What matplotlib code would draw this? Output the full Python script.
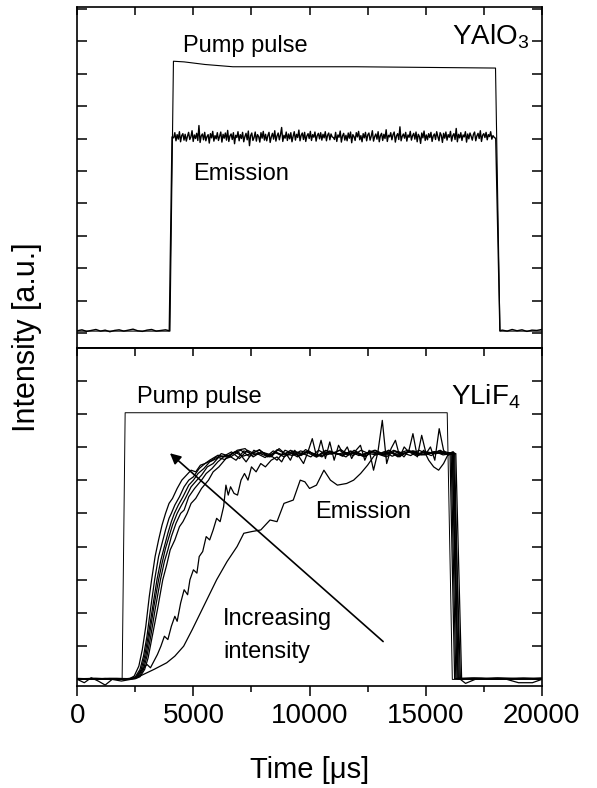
import numpy as np
import matplotlib
matplotlib.use('Agg')
import matplotlib.pyplot as plt
from matplotlib.ticker import MultipleLocator

plt.rcParams['font.family'] = ['Liberation Sans', 'DejaVu Sans']
plt.rcParams['mathtext.fontset'] = 'custom'
plt.rcParams['mathtext.rm'] = 'Liberation Sans'
plt.rcParams['mathtext.default'] = 'rm'

# ---------------- top panel (YAlO3) ----------------
top_pump_t = [0, 3990, 4140, 4600, 5500, 6700, 12000, 18010, 18200, 20000]
top_pump_v = [0.07, 0.07, 8.38, 8.36, 8.28, 8.21, 8.21, 8.17, 0.07, 0.07]

top_em_left_v = [0.08, 0.11, 0.06, 0.09, 0.12, 0.07, 0.10, 0.05, 0.09, 0.11,
                 0.07, 0.10, 0.13, 0.08, 0.06, 0.10, 0.12, 0.07, 0.09, 0.11]
top_em_left_span = (0, 3800)
top_em_rise_t = [3960, 4080]
top_em_rise_v = [0.08, 6.05]
top_em_plat_v = [
    6.02, 6.18, 5.93, 6.12, 5.98, 6.21, 5.90, 6.09, 6.15, 5.95,
    6.13, 5.92, 6.07, 6.19, 5.97, 6.05, 6.24, 5.91, 6.11, 6.00,
    6.16, 5.94, 6.40, 5.88, 6.08, 6.14, 5.96, 6.19, 5.93, 6.06,
    6.12, 5.86, 6.15, 6.02, 6.22, 5.92, 6.09, 5.99, 6.18, 5.94,
    6.07, 6.20, 5.89, 6.13, 6.01, 6.17, 5.95, 6.25, 5.91, 6.08,
    6.14, 5.97, 6.18, 5.84, 6.10, 6.03, 6.21, 5.93, 6.12, 6.00,
    6.19, 5.90, 6.06, 6.16, 5.96, 6.23, 5.78, 6.09, 6.17, 5.94,
    6.03, 6.20, 5.92, 6.12, 6.06, 5.89, 6.18, 6.01, 6.22, 5.95,
    6.13, 5.93, 6.09, 6.19, 5.88, 6.05, 6.16, 5.98, 6.24, 5.92,
    6.08, 6.17, 5.96, 6.12, 6.34, 5.91, 6.10, 6.01, 6.20, 5.94,
    6.14, 5.99, 6.18, 5.90, 6.07, 6.21, 5.95, 6.13, 6.03, 6.26,
    5.93, 6.10, 6.17, 5.97, 6.19, 5.91, 6.08, 6.15, 6.00, 6.22,
    5.94, 6.12, 6.04, 6.20, 5.92, 6.09, 6.16, 5.99, 6.18, 5.95,
    6.13, 6.02, 6.21, 5.93, 6.10, 6.17, 5.96, 6.14, 6.05, 6.03,
    5.97, 6.19, 5.91, 6.11, 6.04, 6.23, 5.89, 6.08, 6.16, 5.95,
    6.10, 5.93, 6.17, 6.01, 6.20, 5.87, 6.12, 6.06, 5.94, 6.18,
    6.05, 6.22, 5.96, 6.09, 5.90, 6.15, 6.02, 6.19, 5.93, 6.11,
    6.17, 5.95, 6.07, 6.24, 5.92, 6.06, 6.14, 5.98, 6.21, 5.90,
    6.09, 6.16, 5.94, 6.13, 6.00, 6.27, 5.91, 6.10, 6.05, 6.18,
    5.96, 6.12, 6.20, 5.89, 6.08, 6.15, 5.97, 6.36, 5.93, 6.07,
    6.14, 6.01, 6.19, 5.92, 6.11, 6.04, 6.22, 5.95, 6.09, 6.16,
    5.98, 6.20, 5.90, 6.13, 6.06, 5.85, 6.17, 6.02, 6.23, 5.94,
    6.11, 5.96, 6.15, 6.03, 6.19, 5.91, 6.08, 6.14, 5.97, 6.21,
    6.06, 5.93, 6.18, 6.10, 5.88, 6.16, 6.01, 6.20, 5.95, 6.12,
    6.04, 6.22, 5.92, 6.09, 6.15, 5.97, 6.31, 5.90, 6.13, 6.02,
    6.18, 5.94, 6.11, 6.05, 6.21, 5.89, 6.14, 5.99, 6.17, 6.07,
    5.95, 6.13, 6.20, 5.93, 6.08, 6.16, 6.00, 6.24, 5.91, 6.10,
    6.15, 6.03, 6.19, 5.96, 6.12, 6.06, 6.21, 5.98, 6.09, 6.04]
top_em_plat_span = (4150, 17950)
top_em_fall_t = [18020, 18200]
top_em_fall_v = [6.0, 0.08]
top_em_right_v = [0.10, 0.07, 0.12, 0.08, 0.11, 0.06, 0.10, 0.09, 0.12]
top_em_right_span = (18300, 20000)

# ---------------- bottom panel (YLiF4) ----------------
bot_pump_t = [0, 1930, 2060, 15930, 16150, 20000]
bot_pump_v = [0.0, 0.0, 8.03, 8.03, 0.0, 0.0]

a_rise_t = [0, 600, 1200, 1800, 2250, 2450, 2650, 2800, 2950, 3100, 3200, 3350, 3500, 3650, 3800, 3950, 4100, 4300, 4500, 4700, 4900, 5100, 5300, 5500]
a_rise_v = [0.02, 0.0, 0.03, 0.01, 0.02, 0.1, 0.4, 0.9, 1.6, 2.5, 3.0, 3.7, 4.2, 4.65, 5.0, 5.3, 5.45, 5.75, 6.0, 6.15, 6.3, 6.25, 6.45, 6.5]
a_plat_v = [6.6, 6.75, 6.7, 6.85, 6.72, 6.8, 6.9, 6.75, 6.82, 6.7, 6.88, 6.78, 6.85, 6.72, 6.9, 6.8, 6.76, 6.86, 6.74, 6.82, 6.9, 6.78, 6.84, 6.72, 6.88, 6.8, 6.76, 6.85, 6.8, 6.82]
a_plat_span = (5700, 16050)
a_tail_t = [16250, 17000, 18000, 19000, 20000]
a_tail_v = [0.02, 0.04, 0.01, 0.03, 0.02]

b_rise_t = [0, 800, 1600, 2300, 2500, 2700, 2850, 3000, 3150, 3330, 3500, 3650, 3800, 3950, 4050, 4200, 4400, 4600, 4800, 5000, 5250, 5500, 5800]
b_rise_v = [0.03, 0.01, 0.02, 0.02, 0.08, 0.3, 0.7, 1.3, 2.1, 3.0, 3.7, 4.1, 4.5, 4.85, 5.0, 5.25, 5.5, 5.8, 6.0, 6.1, 6.35, 6.5, 6.6]
b_plat_v = [6.7, 6.62, 6.82, 6.9, 6.72, 6.8, 6.68, 6.88, 6.76, 6.84, 6.7, 6.92, 6.78, 6.74, 6.86, 6.8, 6.7, 6.9, 6.76, 6.84, 6.78, 6.7, 6.88, 6.82, 6.74, 6.9, 6.8, 6.86, 6.76, 6.8]
b_plat_span = (6000, 16100)
b_tail_t = [16300, 17200, 18100, 19100, 20000]
b_tail_v = [0.03, 0.01, 0.04, 0.02, 0.03]

c_rise_t = [0, 700, 1500, 2350, 2550, 2750, 2900, 3050, 3250, 3430, 3600, 3750, 3900, 4050, 4180, 4350, 4550, 4800, 5000, 5200, 5450, 5700, 6000]
c_rise_v = [0.01, 0.03, 0.02, 0.02, 0.08, 0.3, 0.7, 1.3, 2.2, 3.0, 3.6, 4.0, 4.4, 4.75, 5.0, 5.25, 5.5, 5.85, 6.0, 6.2, 6.35, 6.55, 6.65]
c_plat_v = [6.8, 6.72, 6.9, 6.95, 6.7, 6.85, 6.78, 6.6, 6.9, 6.8, 6.74, 6.88, 6.7, 6.85, 6.8, 6.92, 6.76, 6.84, 6.7, 6.86, 6.78, 6.9, 6.74, 6.82, 6.88, 6.76, 6.84, 6.8, 6.86, 6.8]
c_plat_span = (6200, 16150)
c_tail_t = [16350, 17100, 18000, 19000, 20000]
c_tail_v = [0.02, 0.04, 0.02, 0.01, 0.03]

d_rise_t = [0, 900, 1700, 2400, 2600, 2800, 2950, 3100, 3300, 3500, 3650, 3800, 3950, 4100, 4300, 4450, 4650, 4900, 5150, 5350, 5600, 5850, 6100]
d_rise_v = [0.02, 0.02, 0.03, 0.02, 0.08, 0.3, 0.7, 1.3, 2.2, 3.0, 3.5, 3.95, 4.3, 4.65, 5.0, 5.2, 5.45, 5.8, 6.0, 6.15, 6.4, 6.5, 6.7]
d_plat_v = [6.72, 6.85, 6.65, 6.9, 6.78, 6.82, 6.7, 6.95, 6.74, 6.86, 6.8, 6.7, 6.9, 6.76, 6.84, 6.72, 6.88, 6.8, 6.74, 6.9, 6.78, 6.85, 6.7, 6.82, 6.88, 6.76, 6.8, 6.86, 6.78, 6.84]
d_plat_span = (6300, 16200)
d_tail_t = [16400, 17300, 18200, 19200, 20000]
d_tail_v = [0.01, 0.03, 0.02, 0.04, 0.01]

e_rise_t = [0, 800, 1600, 2450, 2650, 2850, 3000, 3150, 3350, 3580, 3750, 3900, 4050, 4250, 4450, 4600, 4800, 5050, 5350, 5550, 5800, 6050, 6300]
e_rise_v = [0.02, 0.03, 0.01, 0.02, 0.08, 0.3, 0.7, 1.25, 2.1, 3.0, 3.55, 3.9, 4.3, 4.7, 5.0, 5.1, 5.5, 5.75, 6.0, 6.2, 6.35, 6.55, 6.7]
e_plat_v = [6.75, 6.6, 6.88, 6.8, 6.92, 6.7, 6.84, 6.76, 6.9, 6.72, 6.86, 6.8, 6.7, 6.88, 6.78, 6.84, 6.74, 6.9, 6.8, 6.76, 6.86, 6.72, 6.82, 6.9, 6.78, 6.84, 6.74, 6.88, 6.8, 6.82]
e_plat_span = (6500, 16250)
e_tail_t = [16450, 17200, 18100, 19000, 20000]
e_tail_v = [0.03, 0.02, 0.04, 0.02, 0.02]

f_rise_t = [0, 1000, 1800, 2500, 2700, 2900, 3050, 3200, 3450, 3680, 3850, 4000, 4200, 4400, 4550, 4730, 4900, 5100, 5350, 5650, 5850, 6100, 6400]
f_rise_v = [0.02, 0.01, 0.02, 0.02, 0.08, 0.3, 0.65, 1.2, 2.1, 3.0, 3.45, 3.9, 4.2, 4.6, 4.75, 5.0, 5.3, 5.45, 5.75, 6.0, 6.25, 6.4, 6.65]
f_plat_v = [6.7, 6.85, 6.55, 6.9, 6.78, 6.7, 6.92, 6.8, 6.74, 6.88, 6.82, 6.7, 6.86, 6.78, 6.9, 6.76, 6.84, 6.72, 6.88, 6.8, 6.75, 6.9, 6.78, 6.85, 6.72, 6.86, 6.8, 6.9, 6.76, 6.8]
f_plat_span = (6600, 16300)
f_tail_t = [16550, 17400, 18300, 19300, 20000]
f_tail_v = [0.02, 0.03, 0.01, 0.03, 0.02]

g_rise_t = [0, 700, 1400, 2100, 2500, 2800, 3000, 3150, 3300, 3450, 3600, 3750, 3900, 4050, 4200, 4300, 4450, 4600, 4750, 4850,
            5000, 5150, 5250, 5400, 5550, 5700, 5850, 6000, 6150, 6300, 6400, 6500, 6600, 6750, 6900, 7050, 7200, 7350, 7500, 7700,
            7900, 8100, 8350, 8600]
g_rise_v = [0.02, 0.0, 0.03, 0.02, 0.05, 0.3, 0.45, 0.35, 0.55, 0.75, 1.0, 1.3, 1.2, 1.6, 1.9, 1.75, 2.3, 2.7, 2.55, 3.0,
            3.3, 3.2, 3.7, 3.85, 4.3, 4.2, 4.5, 4.85, 4.75, 5.2, 5.85, 5.55, 5.8, 5.6, 5.55, 6.0, 6.2, 6.0, 6.4, 6.25,
            6.5, 6.4, 6.6, 6.7]
g_plat_v = [6.55, 6.8, 6.6, 6.9, 6.7, 6.5, 6.85, 7.25, 6.7, 7.2, 6.65, 7.15, 6.6, 7.05, 6.8, 7.0, 6.65, 6.9, 7.05, 6.6,
            6.9, 6.3, 6.85, 7.8, 6.5, 6.95, 7.2, 6.7, 7.0, 6.85, 7.4, 6.7, 7.35, 6.8, 7.0, 6.6, 7.55, 6.9, 6.75, 6.85]
g_plat_span = (8800, 16150)
g_tail_t = [16400, 17000, 18000, 19000, 20000]
g_tail_v = [0.03, 0.01, 0.03, 0.02, 0.04]

h_rise_t = [0, 300, 600, 900, 1200, 1500, 1900, 2300, 2700, 3300, 3850, 4200, 4580, 4950, 5300, 5650, 6000, 6450, 6880, 7170,
            7500, 7900, 8300, 8600, 8900, 9300, 9600, 9800, 10000, 10300, 10620, 10900, 11200, 11600, 11900, 12200, 12500, 12800]
h_rise_v = [0.0, -0.1, 0.05, -0.05, -0.17, 0.0, -0.05, 0.0, 0.1, 0.3, 0.5, 0.7, 1.0, 1.5, 2.0, 2.5, 3.0, 3.55, 4.0, 4.4,
            4.45, 4.5, 4.8, 4.75, 5.3, 5.4, 6.0, 5.95, 5.75, 5.85, 6.3, 6.0, 5.85, 5.9, 6.0, 6.2, 6.45, 6.75]
h_plat_v = [6.8, 6.75, 6.9, 6.8, 6.85, 6.7, 6.9, 6.8, 6.75, 6.9, 6.6, 6.4, 6.3, 6.5, 6.8, 6.85]
h_plat_span = (13000, 16200)
h_tail_t = [16500, 16720, 17200, 18500, 19000, 19600, 20000]
h_tail_v = [0.0, -0.12, 0.02, 0.0, -0.1, -0.1, 0.0]

x_major = [0, 5000, 10000, 15000, 20000]
x_labels = ['0', '5000', '10000', '15000', '20000']

# ---------------- figure ----------------
fig = plt.figure(figsize=(5.97, 7.88), dpi=100)
ax1 = fig.add_axes([0.1295, 0.5584, 0.7779, 0.4323])
ax2 = fig.add_axes([0.1295, 0.1294, 0.7779, 0.4290])

# top panel
ax1.plot(top_pump_t, top_pump_v, color='black', lw=0.8)
top_em_t = np.concatenate([np.linspace(*top_em_left_span, len(top_em_left_v)), top_em_rise_t,
                           np.linspace(*top_em_plat_span, len(top_em_plat_v)), top_em_fall_t,
                           np.linspace(*top_em_right_span, len(top_em_right_v))])
top_em_v = np.concatenate([top_em_left_v, top_em_rise_v, top_em_plat_v, top_em_fall_v, top_em_right_v])
ax1.plot(top_em_t, top_em_v, color='black', lw=1.0)

# bottom panel
ax2.plot(bot_pump_t, bot_pump_v, color='black', lw=0.7)
curves = [
    (a_rise_t, a_rise_v, a_plat_v, a_plat_span, a_tail_t, a_tail_v),
    (b_rise_t, b_rise_v, b_plat_v, b_plat_span, b_tail_t, b_tail_v),
    (c_rise_t, c_rise_v, c_plat_v, c_plat_span, c_tail_t, c_tail_v),
    (d_rise_t, d_rise_v, d_plat_v, d_plat_span, d_tail_t, d_tail_v),
    (e_rise_t, e_rise_v, e_plat_v, e_plat_span, e_tail_t, e_tail_v),
    (f_rise_t, f_rise_v, f_plat_v, f_plat_span, f_tail_t, f_tail_v),
    (g_rise_t, g_rise_v, g_plat_v, g_plat_span, g_tail_t, g_tail_v),
    (h_rise_t, h_rise_v, h_plat_v, h_plat_span, h_tail_t, h_tail_v),
]
for rt, rv, pv, ps, tt, tv in curves:
    t = np.concatenate([rt, np.linspace(ps[0], ps[1], len(pv)), tt])
    v = np.concatenate([rv, pv, tv])
    ax2.plot(t, v, color='black', lw=0.9)

# axes styling
for ax in (ax1, ax2):
    ax.set_xlim(0, 20000)
    ax.set_yticks(range(0, 11))
    ax.tick_params(axis='y', which='major', direction='in', length=7, width=1.1,
                   left=True, right=True, labelleft=False, labelright=False)
    ax.xaxis.set_major_locator(MultipleLocator(5000))
    ax.xaxis.set_minor_locator(MultipleLocator(2500))
    for s in ax.spines.values():
        s.set_linewidth(1.2)

ax1.set_ylim(-0.45, 10.04)
ax2.set_ylim(-0.2, 9.98)

ax1.tick_params(axis='x', which='both', direction='in', length=6, width=1.1,
                top=True, bottom=False, labelbottom=False, labeltop=False)

ax2.set_xticks(x_major)
ax2.set_xticklabels(x_labels, fontsize=20)
ax2.tick_params(axis='x', which='major', direction='out', length=7.5, width=1.1, top=False, pad=5)
ax2.tick_params(axis='x', which='minor', direction='out', length=4, width=1.1, top=False)
sec = ax2.secondary_xaxis('top')
sec.set_xticks(np.arange(0, 20001, 2500))
sec.tick_params(axis='x', direction='in', length=5.5, width=1.1, labeltop=False)
sec.spines['top'].set_linewidth(1.2)
ax2.set_xlabel('Time [\u03bcs]', fontsize=21, labelpad=19)
fig.text(26.7 / 597, 1 - 337.5 / 788, 'Intensity [a.u.]', rotation=90,
         ha='center', va='center', fontsize=22)

# annotations
ax1.text(4570, 8.67, 'Pump pulse', fontsize=17, ha='left', va='baseline')
ax1.text(16150, 8.88, 'YAlO$_3$', fontsize=20, ha='left', va='baseline')
ax1.text(5000, 4.72, 'Emission', fontsize=17, ha='left', va='baseline')

ax2.text(2560, 8.32, 'Pump pulse', fontsize=17, ha='left', va='baseline')
ax2.text(16080, 8.27, 'YLiF$_4$', fontsize=20, ha='left', va='baseline')
ax2.text(10260, 4.86, 'Emission', fontsize=17, ha='left', va='baseline')
ax2.text(6290, 1.64, 'Increasing', fontsize=17, ha='left', va='baseline')
ax2.text(6290, 0.64, 'intensity', fontsize=17, ha='left', va='baseline')
ax2.annotate('', xy=(3990, 6.81), xytext=(13170, 1.14),
             arrowprops=dict(arrowstyle='-|>', color='black', lw=1.2,
                             mutation_scale=16, shrinkA=0, shrinkB=0))

fig.savefig('out.png', dpi=100)
